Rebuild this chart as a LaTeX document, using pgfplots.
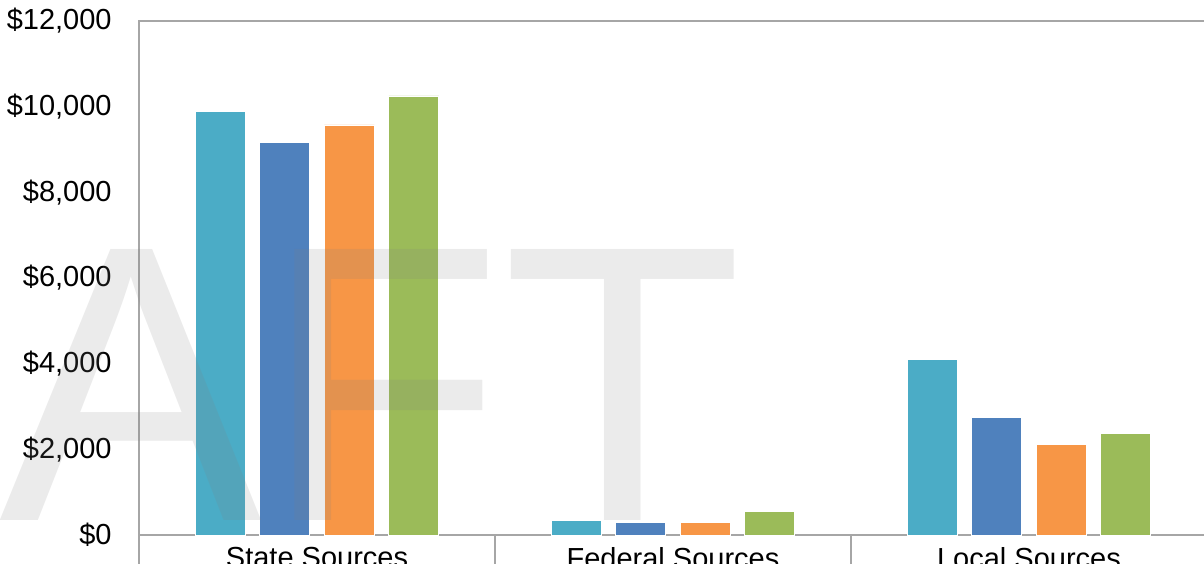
\documentclass[border=0pt]{standalone}
\usepackage{fontspec}
\setmainfont{Liberation Sans}
\usepackage{pgfplots}
\pgfplotsset{compat=1.18}
\definecolor{cA}{HTML}{4BACC6}
\definecolor{cB}{HTML}{4F81BD}
\definecolor{cC}{HTML}{F79646}
\definecolor{cD}{HTML}{9BBB59}
\definecolor{axgray}{HTML}{A6A6A6}
\begin{document}
\begin{tikzpicture}
\begin{axis}[name=ax, at={(0,0)}, anchor=south west,
  scale only axis, width=534pt, height=257pt,
  ybar=7.25pt, bar width=25pt,
  xmin=-0.5, xmax=2.5, ymin=0, ymax=12000,
  xtick={0,1,2},
  xticklabels={State Sources, Federal Sources, Local Sources},
  ytick={0,2000,4000,6000,8000,10000,12000},
  scaled y ticks=false,
  yticklabel={\$\pgfmathprintnumber{\tick}},
  /pgf/number format/assume math mode=true,
  /pgf/number format/1000 sep={,},
  /pgf/number format/fixed,
  tick pos=left,
  axis line style={axgray, line width=1pt},
  major tick length=0pt,
  extra x ticks={-0.5,0.5,1.5,2.5},
  extra x tick labels={},
  extra x tick style={major tick length=16pt, tick align=outside, tick pos=left, tick style={axgray, line width=1pt}},
  ticklabel style={font=\fontsize{14.5}{17}\selectfont, text=black},
  yticklabel style={inner sep=0pt, anchor=east, xshift=-13.5pt},
  xticklabel style={inner sep=0pt, anchor=north, yshift=-6pt},
]
\addplot[fill=cA, draw=white, line width=0.4pt] coordinates {(0,9892) (1,350) (2,4102)};
\addplot[fill=cB, draw=white, line width=0.4pt] coordinates {(0,9160) (1,297) (2,2748)};
\addplot[fill=cC, draw=white, line width=0.4pt] coordinates {(0,9573) (1,297) (2,2118)};
\addplot[fill=cD, draw=white, line width=0.4pt] coordinates {(0,10250) (1,560) (2,2374)};
\end{axis}
\node[anchor=base east, inner sep=0pt, text=gray, text opacity=0.16,
      font=\fontsize{197}{205}\selectfont]
  at ([xshift=302.5pt, yshift=7.5pt]ax.south west) {DRAFT};
\pgfresetboundingbox
\path[use as bounding box] ([xshift=-69.5pt, yshift=-14pt]ax.south west) rectangle ([xshift=532.5pt, yshift=267.5pt]ax.south west);
\end{tikzpicture}
\end{document}
